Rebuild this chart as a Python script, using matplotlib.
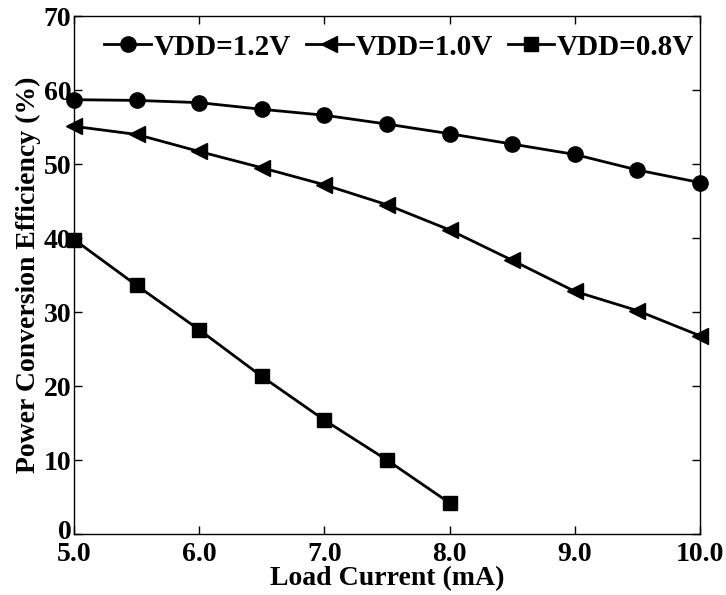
import matplotlib
matplotlib.use("Agg")
import matplotlib.pyplot as plt
from matplotlib.ticker import FormatStrFormatter
from matplotlib.transforms import ScaledTranslation

# 負荷電流 (mA)
current = [5.0, 5.5, 6.0, 6.5, 7.0, 7.5, 8.0, 8.5, 9.0, 9.5, 10.0]
current_08 = [5.0, 5.5, 6.0, 6.5, 7.0, 7.5, 8.0]

# 電力変換効率 (%)
eff_12 = [58.7, 58.6, 58.3, 57.4, 56.6, 55.4, 54.1, 52.7, 51.3, 49.2, 47.5]
eff_10 = [55.1, 54.0, 51.7, 49.5, 47.2, 44.5, 41.1, 37.0, 32.8, 30.2, 26.8]
eff_08 = [39.8, 33.6, 27.6, 21.3, 15.4, 10.0, 4.2]

plt.rcParams['font.family'] = ['Liberation Serif', 'DejaVu Serif']
plt.rcParams['font.weight'] = 'bold'

fig = plt.figure(figsize=(7.26, 5.95), dpi=100)
ax = fig.add_axes([0.102, 0.1025, 0.862, 0.8705])

kw = dict(color='black', lw=2, clip_on=False)
ax.plot(current, eff_12, '-o', ms=11, label='VDD=1.2V', **kw)
ax.plot(current, eff_10, '-<', ms=12, label='VDD=1.0V', **kw)
ax.plot(current_08, eff_08, '-s', ms=10, label='VDD=0.8V', **kw)

ax.set_xlim(5.0, 10.0)
ax.set_ylim(0, 70)
ax.set_xticks([5, 6, 7, 8, 9, 10])
ax.set_yticks(range(0, 71, 10))
ax.xaxis.set_major_formatter(FormatStrFormatter('%.1f'))
ax.tick_params(direction='in', top=True, right=True, labelsize=20, length=6, width=1)
ax.tick_params(axis='x', pad=6)
ax.tick_params(axis='y', pad=2)
for s in ax.spines.values():
    s.set_linewidth(1)

ax.set_xlabel('Load Current (mA)', fontsize=20, fontweight='bold', labelpad=-1)
ax.set_ylabel('Power Conversion Efficiency (%)', fontsize=20, fontweight='bold', labelpad=2)

ax.legend(loc='upper center', ncol=3, frameon=False, fontsize=21, handlelength=1.6,
          handletextpad=0.1, columnspacing=0.5, borderaxespad=0.2,
          bbox_to_anchor=(0.52, 1.0))

# "0" を少し上へずらして x 軸の "5.0" と重ならないようにする
fig.canvas.draw()
zero = ax.yaxis.get_major_ticks()[0].label1
zero.set_transform(zero.get_transform() + ScaledTranslation(0, 3 / 72, fig.dpi_scale_trans))

fig.savefig('out.png', dpi=100)
